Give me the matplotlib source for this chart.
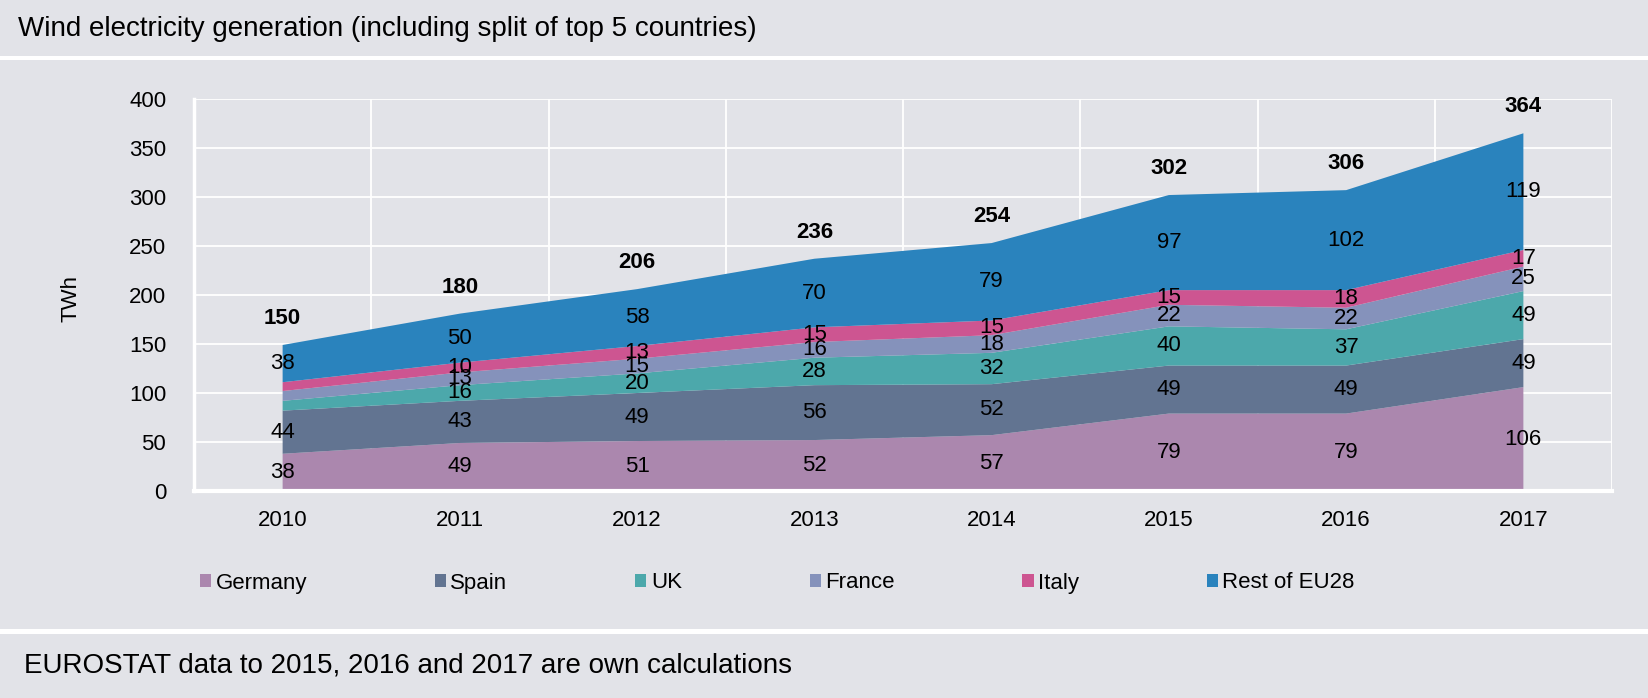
import matplotlib.pyplot as plt
from matplotlib.patches import Rectangle

plt.rcParams['font.family'] = ['Liberation Sans', 'DejaVu Sans']

years = ['2010', '2011', '2012', '2013', '2014', '2015', '2016', '2017']
germany = [38, 49, 51, 52, 57, 79, 79, 106]
spain = [44, 43, 49, 56, 52, 49, 49, 49]
uk = [10, 16, 20, 28, 32, 40, 37, 49]
france = [10, 13, 15, 16, 18, 22, 22, 25]
italy = [9, 10, 13, 15, 15, 15, 18, 17]
rest = [38, 50, 58, 70, 79, 97, 102, 119]
totals = [150, 180, 206, 236, 254, 302, 306, 364]

names = ['Germany', 'Spain', 'UK', 'France', 'Italy', 'Rest of EU28']
series = [germany, spain, uk, france, italy, rest]
colors = ['#ab87ae', '#627491', '#4ca8ab', '#8592bb', '#cd5591', '#2a83bd']
# the 2010 labels of the thin bands are not shown in the original
hide_first = ['UK', 'France', 'Italy']

fs = 16
bg = '#e2e3e8'
fig = plt.figure(figsize=(16.48, 6.98), dpi=100, facecolor=bg)
ax = fig.add_axes([194 / 1648, 1 - 491 / 698, 1418 / 1648, 392 / 698])
ax.set_facecolor(bg)

x = list(range(len(years)))
ax.stackplot(x, *series, colors=colors, labels=names, linewidth=0)

# value labels in the middle of each band
base = [0] * len(years)
for name, vals in zip(names, series):
    for i, v in enumerate(vals):
        if not (i == 0 and name in hide_first):
            ax.text(i, base[i] + v / 2, str(v), ha='center', va='center', fontsize=fs, color='black')
        base[i] += v

for i, t in enumerate(totals):
    ax.annotate(str(t), (i, base[i]), xytext=(0, 19), textcoords='offset points',
                ha='center', va='center', fontsize=fs, fontweight='bold')

ax.set_xlim(-0.5, 7.5)
ax.set_ylim(0, 400)
ax.set_yticks(range(0, 401, 50))
ax.set_xticks(x)
ax.set_xticklabels(years)
ax.set_xticks([i - 0.5 for i in range(len(years) + 1)], minor=True)
ax.tick_params(axis='both', which='both', length=0, labelsize=fs)
ax.tick_params(axis='y', pad=20)
ax.tick_params(axis='x', pad=14)
ax.grid(True, axis='y', which='major', color='white', linewidth=1.3)
ax.grid(True, axis='x', which='minor', color='white', linewidth=1.3)
ax.grid(False, axis='x', which='major')
ax.set_axisbelow(True)
for s in ['top', 'right']:
    ax.spines[s].set_visible(False)
ax.spines['left'].set_color('white')
ax.spines['left'].set_linewidth(2.5)
ax.spines['bottom'].set_color('white')
ax.spines['bottom'].set_linewidth(3)
ax.set_ylabel('TWh', fontsize=fs)
ax.yaxis.set_label_coords(-0.079, 0.49)

fig.legend(loc='center left', bbox_to_anchor=(200 / 1648, 1 - 583 / 698), ncol=6,
           frameon=False, fontsize=fs, handlelength=0.5, handleheight=0.5,
           handletextpad=0.2, columnspacing=5.75, borderpad=0, borderaxespad=0)

# white separators of the title and footnote bands
fig.patches.append(Rectangle((0, 1 - 60 / 698), 1, 4 / 698, transform=fig.transFigure,
                             facecolor='white', edgecolor='none'))
fig.patches.append(Rectangle((0, 1 - 634 / 698), 1, 5 / 698, transform=fig.transFigure,
                             facecolor='white', edgecolor='none'))

fig.text(18 / 1648, 1 - 29 / 698, 'Wind electricity generation (including split of top 5 countries)',
         fontsize=20, va='center', ha='left')
fig.text(24 / 1648, 1 - 665 / 698, 'EUROSTAT data to 2015, 2016 and 2017 are own calculations',
         fontsize=20, va='center', ha='left')

fig.savefig('out.png', dpi=100, facecolor=bg)
